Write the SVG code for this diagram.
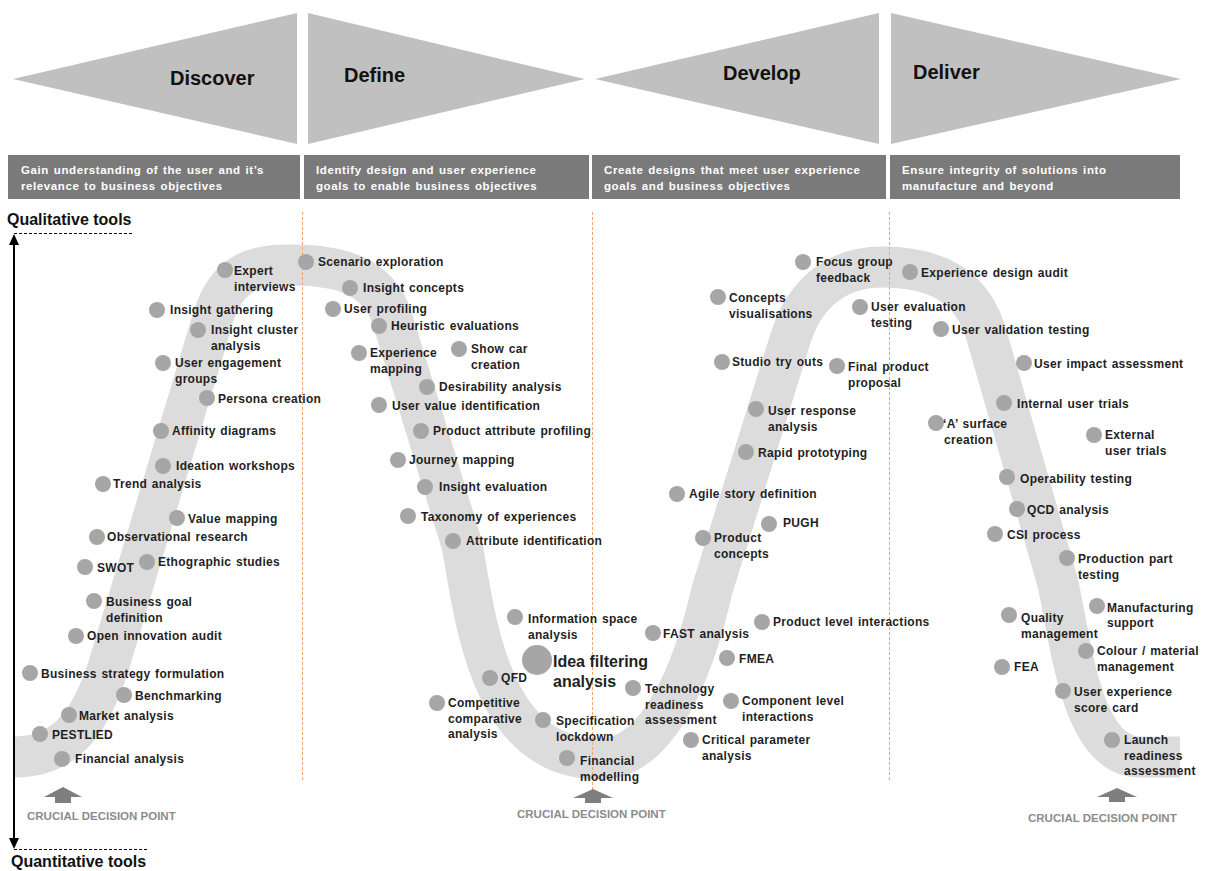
<svg xmlns="http://www.w3.org/2000/svg" width="1206" height="871" viewBox="0 0 1206 871">
<style>
.tri{fill:#c0c0c0}
.box{fill:#7a7a7a}
.ph{font:bold 20px "Liberation Sans",Arial,sans-serif;fill:#111}
.desc{font:bold 11.5px "Liberation Sans",Arial,sans-serif;fill:#fff;letter-spacing:0.6px;word-spacing:1px}
.dot{fill:#a6a6a6}
.lbl{font:bold 12px "Liberation Sans",Arial,sans-serif;fill:#1f1f1f;letter-spacing:0.3px;word-spacing:1px}
.big{font:bold 16px "Liberation Sans",Arial,sans-serif;fill:#1f1f1f}
.cdp{font:bold 11.5px "Liberation Sans",Arial,sans-serif;fill:#8c8c8c}
.cda{fill:#7f7f7f}
.vdash{stroke:#f4a46c;stroke-width:1;stroke-dasharray:3 2;fill:none}
.hdash{stroke:#000;stroke-width:1.2;stroke-dasharray:3 2;fill:none}
.axis-t{font:bold 16px "Liberation Sans",Arial,sans-serif;fill:#111}
</style>
<rect width="1206" height="871" fill="#fff"/>

<g id="phases">
  <g id="phase-discover">
    <polygon class="tri" points="13,79 297,13 297,144"/>
    <text class="ph" x="170" y="85">Discover</text>
    <rect class="box" x="8" y="155" width="292" height="44"/>
    <text class="desc" x="21" y="174">Gain understanding of the user and it’s<tspan x="21" dy="16">relevance to business objectives</tspan></text>
  </g>
  <g id="phase-define">
    <polygon class="tri" points="308,13 308,144 585,79"/>
    <text class="ph" x="344" y="82">Define</text>
    <rect class="box" x="304" y="155" width="285" height="44"/>
    <text class="desc" x="316" y="174">Identify design and user experience<tspan x="316" dy="16">goals to enable business objectives</tspan></text>
  </g>
  <g id="phase-develop">
    <polygon class="tri" points="595,79 879,13 879,144"/>
    <text class="ph" x="723" y="80">Develop</text>
    <rect class="box" x="592" y="155" width="294" height="44"/>
    <text class="desc" x="604" y="174">Create designs that meet user experience<tspan x="604" dy="16">goals and business objectives</tspan></text>
  </g>
  <g id="phase-deliver">
    <polygon class="tri" points="891,13 891,144 1181,79"/>
    <text class="ph" x="913" y="79">Deliver</text>
    <rect class="box" x="890" y="155" width="290" height="44"/>
    <text class="desc" x="902" y="174">Ensure integrity of solutions into<tspan x="902" dy="16">manufacture and beyond</tspan></text>
  </g>
</g>

<g id="band">
  <path d="M15,757 C70,757 92,715 108,668 L213,318 C228,268 260,265 292,265 C338,265 378,275 392,318 L462,545 C475,615 488,759 600,759 C660,759 695,665 712,590 L790,340 C805,290 840,267 882,267 C935,267 970,285 985,330 L1057,580 C1070,630 1078,757 1140,757 L1180,757" fill="none" stroke="#dcdcdc" stroke-width="41"/>
</g>

<g id="dividers">
  <line class="vdash" x1="302.5" y1="212" x2="302.5" y2="782"/>
  <line class="vdash" x1="592.5" y1="212" x2="592.5" y2="790"/>
  <line class="vdash" x1="889.5" y1="212" x2="889.5" y2="782"/>
</g>

<g id="connectors">
  <g id="axis">
    <line x1="14" y1="243" x2="14" y2="840" stroke="#000" stroke-width="2"/>
    <polygon points="14,234 9,245 19,245" fill="#000"/>
    <polygon points="14,849 9,838 19,838" fill="#000"/>
    <line class="hdash" x1="14" y1="233.5" x2="133" y2="233.5"/>
    <line class="hdash" x1="14" y1="849.5" x2="148" y2="849.5"/>
  </g>
  <g id="decision-left">
    <polygon class="cda" points="44,797 63,787 82,797"/>
    <rect class="cda" x="55" y="797" width="16" height="6"/>
  </g>
  <g id="decision-mid">
    <polygon class="cda" points="573,798 593,789 613,798"/>
    <rect class="cda" x="585" y="798" width="16" height="5"/>
  </g>
  <g id="decision-right">
    <polygon class="cda" points="1097,797 1117,788 1137,797"/>
    <rect class="cda" x="1109" y="797" width="16" height="5"/>
  </g>
</g>

<g id="axis-labels">
  <text class="axis-t" x="7" y="225">Qualitative tools</text>
  <text class="axis-t" x="11" y="867">Quantitative tools</text>
  <text class="cdp" x="27" y="820">CRUCIAL DECISION POINT</text>
  <text class="cdp" x="517" y="818">CRUCIAL DECISION POINT</text>
  <text class="cdp" x="1028" y="822">CRUCIAL DECISION POINT</text>
</g>

<g id="nodes">
<g id="n-expert-interviews"><circle class="dot" cx="225" cy="270" r="8"/><text class="lbl" x="234" y="275">Expert<tspan x="234" dy="15.5">interviews</tspan></text></g>
<g id="n-insight-gathering"><circle class="dot" cx="157" cy="310" r="8"/><text class="lbl" x="170" y="314">Insight gathering</text></g>
<g id="n-insight-cluster"><circle class="dot" cx="198" cy="330" r="8"/><text class="lbl" x="211" y="334">Insight cluster<tspan x="211" dy="15.5">analysis</tspan></text></g>
<g id="n-user-engagement"><circle class="dot" cx="163" cy="363" r="8"/><text class="lbl" x="175" y="367">User engagement<tspan x="175" dy="15.5">groups</tspan></text></g>
<g id="n-persona"><circle class="dot" cx="207" cy="398" r="8"/><text class="lbl" x="218" y="403">Persona creation</text></g>
<g id="n-affinity"><circle class="dot" cx="161" cy="431" r="8"/><text class="lbl" x="172" y="435">Affinity diagrams</text></g>
<g id="n-ideation"><circle class="dot" cx="163" cy="466" r="8"/><text class="lbl" x="176" y="470">Ideation workshops</text></g>
<g id="n-trend"><circle class="dot" cx="103" cy="484" r="8"/><text class="lbl" x="113" y="488">Trend analysis</text></g>
<g id="n-value-mapping"><circle class="dot" cx="177" cy="518" r="8"/><text class="lbl" x="188" y="523">Value mapping</text></g>
<g id="n-observational"><circle class="dot" cx="97" cy="537" r="8"/><text class="lbl" x="107" y="541">Observational research</text></g>
<g id="n-swot"><circle class="dot" cx="85" cy="567" r="8"/><text class="lbl" x="97" y="572">SWOT</text></g>
<g id="n-ethographic"><circle class="dot" cx="147" cy="562" r="8"/><text class="lbl" x="158" y="566">Ethographic studies</text></g>
<g id="n-business-goal"><circle class="dot" cx="94" cy="601" r="8"/><text class="lbl" x="106" y="606">Business goal<tspan x="106" dy="15.5">definition</tspan></text></g>
<g id="n-open-innovation"><circle class="dot" cx="76" cy="636" r="8"/><text class="lbl" x="87" y="640">Open innovation audit</text></g>
<g id="n-business-strategy"><circle class="dot" cx="30" cy="673" r="8"/><text class="lbl" x="41" y="678">Business strategy formulation</text></g>
<g id="n-benchmarking"><circle class="dot" cx="124" cy="695" r="8"/><text class="lbl" x="135" y="700">Benchmarking</text></g>
<g id="n-market"><circle class="dot" cx="69" cy="715" r="8"/><text class="lbl" x="79" y="720">Market analysis</text></g>
<g id="n-pestlied"><circle class="dot" cx="40" cy="734" r="8"/><text class="lbl" x="52" y="739">PESTLIED</text></g>
<g id="n-financial-analysis"><circle class="dot" cx="62" cy="759" r="8"/><text class="lbl" x="75" y="763">Financial analysis</text></g>

<g id="n-scenario"><circle class="dot" cx="306" cy="262" r="8"/><text class="lbl" x="318" y="266">Scenario exploration</text></g>
<g id="n-insight-concepts"><circle class="dot" cx="350" cy="288" r="8"/><text class="lbl" x="363" y="292">Insight concepts</text></g>
<g id="n-user-profiling"><circle class="dot" cx="333" cy="309" r="8"/><text class="lbl" x="344" y="313">User profiling</text></g>
<g id="n-heuristic"><circle class="dot" cx="379" cy="326" r="8"/><text class="lbl" x="391" y="330">Heuristic evaluations</text></g>
<g id="n-experience-mapping"><circle class="dot" cx="359" cy="353" r="8"/><text class="lbl" x="370" y="357">Experience<tspan x="370" dy="15.5">mapping</tspan></text></g>
<g id="n-show-car"><circle class="dot" cx="459" cy="349" r="8"/><text class="lbl" x="471" y="353">Show car<tspan x="471" dy="15.5">creation</tspan></text></g>
<g id="n-desirability"><circle class="dot" cx="427" cy="387" r="8"/><text class="lbl" x="439" y="391">Desirability analysis</text></g>
<g id="n-user-value"><circle class="dot" cx="379" cy="405" r="8"/><text class="lbl" x="392" y="410">User value identification</text></g>
<g id="n-product-attribute"><circle class="dot" cx="421" cy="431" r="8"/><text class="lbl" x="433" y="435">Product attribute profiling</text></g>
<g id="n-journey"><circle class="dot" cx="398" cy="460" r="8"/><text class="lbl" x="409" y="464">Journey mapping</text></g>
<g id="n-insight-evaluation"><circle class="dot" cx="425" cy="487" r="8"/><text class="lbl" x="439" y="491">Insight evaluation</text></g>
<g id="n-taxonomy"><circle class="dot" cx="408" cy="516" r="8"/><text class="lbl" x="421" y="521">Taxonomy of experiences</text></g>
<g id="n-attribute-identification"><circle class="dot" cx="453" cy="541" r="8"/><text class="lbl" x="466" y="545">Attribute identification</text></g>
<g id="n-information-space"><circle class="dot" cx="515" cy="617" r="8"/><text class="lbl" x="528" y="623">Information space<tspan x="528" dy="15.5">analysis</tspan></text></g>
<g id="n-idea-filtering"><circle class="dot" cx="537" cy="660" r="15"/><text class="big" x="553" y="667">Idea filtering<tspan x="553" dy="20">analysis</tspan></text></g>
<g id="n-qfd"><circle class="dot" cx="490" cy="678" r="8"/><text class="lbl" x="501" y="682">QFD</text></g>
<g id="n-competitive"><circle class="dot" cx="437" cy="703" r="8"/><text class="lbl" x="448" y="707">Competitive<tspan x="448" dy="15.5">comparative</tspan><tspan x="448" dy="15.5">analysis</tspan></text></g>
<g id="n-specification"><circle class="dot" cx="543" cy="720" r="8"/><text class="lbl" x="556" y="725">Specification<tspan x="556" dy="15.5">lockdown</tspan></text></g>
<g id="n-financial-modelling"><circle class="dot" cx="567" cy="758" r="8"/><text class="lbl" x="580" y="765">Financial<tspan x="580" dy="15.5">modelling</tspan></text></g>

<g id="n-fast"><circle class="dot" cx="653" cy="633" r="8"/><text class="lbl" x="663" y="638">FAST analysis</text></g>
<g id="n-technology"><circle class="dot" cx="633" cy="688" r="8"/><text class="lbl" x="645" y="693">Technology<tspan x="645" dy="15.5">readiness</tspan><tspan x="645" dy="15.5">assessment</tspan></text></g>
<g id="n-critical"><circle class="dot" cx="691" cy="740" r="8"/><text class="lbl" x="702" y="744">Critical parameter<tspan x="702" dy="15.5">analysis</tspan></text></g>
<g id="n-product-level"><circle class="dot" cx="762" cy="622" r="8"/><text class="lbl" x="773" y="626">Product level interactions</text></g>
<g id="n-fmea"><circle class="dot" cx="727" cy="658" r="8"/><text class="lbl" x="739" y="663">FMEA</text></g>
<g id="n-component"><circle class="dot" cx="731" cy="701" r="8"/><text class="lbl" x="742" y="705">Component level<tspan x="742" dy="15.5">interactions</tspan></text></g>
<g id="n-product-concepts"><circle class="dot" cx="703" cy="538" r="8"/><text class="lbl" x="714" y="542">Product<tspan x="714" dy="15.5">concepts</tspan></text></g>
<g id="n-pugh"><circle class="dot" cx="769" cy="524" r="8"/><text class="lbl" x="783" y="527">PUGH</text></g>
<g id="n-agile"><circle class="dot" cx="677" cy="494" r="8"/><text class="lbl" x="689" y="498">Agile story definition</text></g>
<g id="n-rapid"><circle class="dot" cx="746" cy="452" r="8"/><text class="lbl" x="758" y="457">Rapid prototyping</text></g>
<g id="n-user-response"><circle class="dot" cx="756" cy="409" r="8"/><text class="lbl" x="768" y="415">User response<tspan x="768" dy="15.5">analysis</tspan></text></g>
<g id="n-studio"><circle class="dot" cx="722" cy="362" r="8"/><text class="lbl" x="732" y="366">Studio try outs</text></g>
<g id="n-final-product"><circle class="dot" cx="837" cy="366" r="8"/><text class="lbl" x="848" y="371">Final product<tspan x="848" dy="15.5">proposal</tspan></text></g>
<g id="n-concepts-vis"><circle class="dot" cx="718" cy="297" r="8"/><text class="lbl" x="729" y="302">Concepts<tspan x="729" dy="15.5">visualisations</tspan></text></g>
<g id="n-focus-group"><circle class="dot" cx="803" cy="262" r="8"/><text class="lbl" x="816" y="266">Focus group<tspan x="816" dy="15.5">feedback</tspan></text></g>
<g id="n-user-evaluation"><circle class="dot" cx="860" cy="307" r="8"/><text class="lbl" x="871" y="311">User evaluation<tspan x="871" dy="15.5">testing</tspan></text></g>

<g id="n-experience-design-audit"><circle class="dot" cx="910" cy="272" r="8"/><text class="lbl" x="921" y="277">Experience design audit</text></g>
<g id="n-user-validation"><circle class="dot" cx="941" cy="329" r="8"/><text class="lbl" x="952" y="334">User validation testing</text></g>
<g id="n-user-impact"><circle class="dot" cx="1024" cy="363" r="8"/><text class="lbl" x="1034" y="368">User impact assessment</text></g>
<g id="n-internal-trials"><circle class="dot" cx="1004" cy="403" r="8"/><text class="lbl" x="1017" y="408">Internal user trials</text></g>
<g id="n-a-surface"><circle class="dot" cx="936" cy="423" r="8"/><text class="lbl" x="943" y="428">‘A’ surface<tspan x="944" dy="15.5">creation</tspan></text></g>
<g id="n-external-trials"><circle class="dot" cx="1094" cy="435" r="8"/><text class="lbl" x="1105" y="439">External<tspan x="1105" dy="15.5">user trials</tspan></text></g>
<g id="n-operability"><circle class="dot" cx="1007" cy="477" r="8"/><text class="lbl" x="1020" y="483">Operability testing</text></g>
<g id="n-qcd"><circle class="dot" cx="1017" cy="509" r="8"/><text class="lbl" x="1027" y="514">QCD analysis</text></g>
<g id="n-csi"><circle class="dot" cx="995" cy="534" r="8"/><text class="lbl" x="1007" y="539">CSI process</text></g>
<g id="n-production-part"><circle class="dot" cx="1067" cy="558" r="8"/><text class="lbl" x="1078" y="563">Production part<tspan x="1078" dy="15.5">testing</tspan></text></g>
<g id="n-manufacturing"><circle class="dot" cx="1097" cy="606" r="8"/><text class="lbl" x="1107" y="612">Manufacturing<tspan x="1107" dy="15">support</tspan></text></g>
<g id="n-quality"><circle class="dot" cx="1009" cy="615" r="8"/><text class="lbl" x="1021" y="622">Quality<tspan x="1021" dy="15.5">management</tspan></text></g>
<g id="n-colour"><circle class="dot" cx="1086" cy="651" r="8"/><text class="lbl" x="1097" y="655">Colour / material<tspan x="1097" dy="15.5">management</tspan></text></g>
<g id="n-fea"><circle class="dot" cx="1002" cy="667" r="8"/><text class="lbl" x="1014" y="671">FEA</text></g>
<g id="n-ux-score"><circle class="dot" cx="1063" cy="691" r="8"/><text class="lbl" x="1074" y="696">User experience<tspan x="1074" dy="15.5">score card</tspan></text></g>
<g id="n-launch"><circle class="dot" cx="1112" cy="740" r="8"/><text class="lbl" x="1124" y="744">Launch<tspan x="1124" dy="15.5">readiness</tspan><tspan x="1124" dy="15.5">assessment</tspan></text></g>
</g>
</svg>
